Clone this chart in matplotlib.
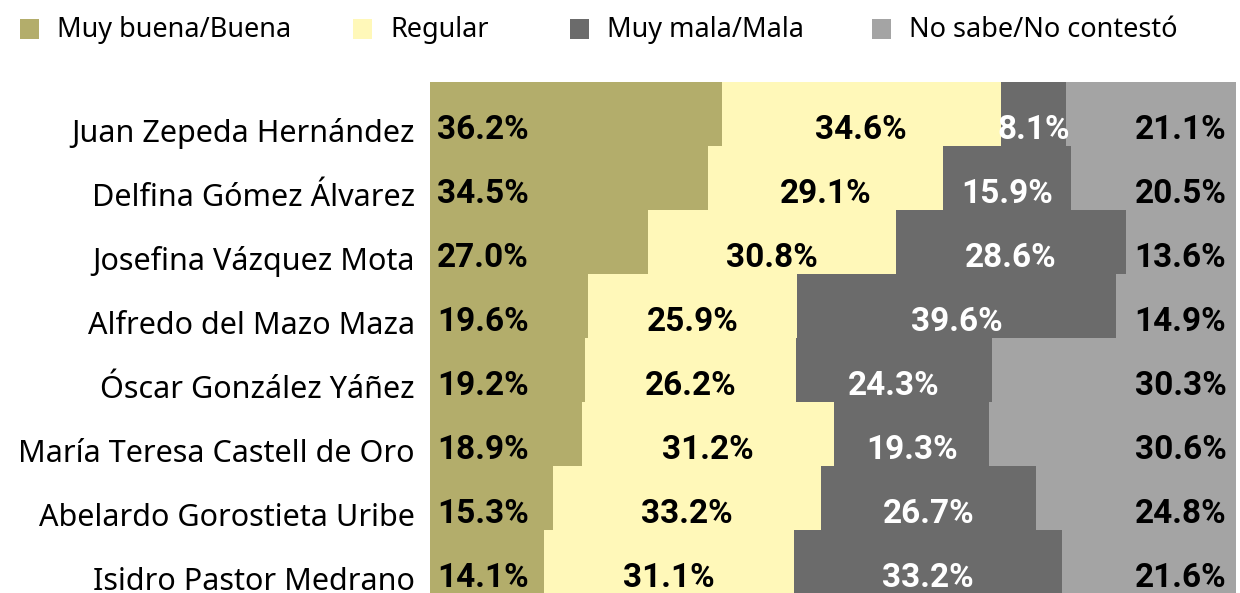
import numpy as np
import matplotlib.pyplot as plt
from matplotlib.patches import Rectangle

# datos de la encuesta
nombres = ["Juan Zepeda Hernández", "Delfina Gómez Álvarez", "Josefina Vázquez Mota",
           "Alfredo del Mazo Maza", "Óscar González Yáñez", "María Teresa Castell de Oro",
           "Abelardo Gorostieta Uribe", "Isidro Pastor Medrano"]
buena = [36.2, 34.5, 27.0, 19.6, 19.2, 18.9, 15.3, 14.1]
regular = [34.6, 29.1, 30.8, 25.9, 26.2, 31.2, 33.2, 31.1]
mala = [8.1, 15.9, 28.6, 39.6, 24.3, 19.3, 26.7, 33.2]
nsnc = [21.1, 20.5, 13.6, 14.9, 30.3, 30.6, 24.8, 21.6]

series = ["Muy buena/Buena", "Regular", "Muy mala/Mala", "No sabe/No contestó"]
colores = ["#b3ad6b", "#fff8b9", "#6b6b6b", "#a4a4a4"]
col_texto = ["black", "black", "white", "black"]

fuente_nom = "Noto Sans"
fuente_num = ["Roboto", "DejaVu Sans"]

fig = plt.figure(figsize=(12.4, 5.93), dpi=100)
ax = fig.add_axes([430 / 1240, -1 / 593, 806 / 1240, 512 / 593])

y = np.arange(len(nombres))
valores = [buena, regular, mala, nsnc]
izq = np.zeros(len(nombres))
for k, vals in enumerate(valores):
    vals = np.array(vals)
    ax.barh(y, vals, left=izq, height=1.0, color=colores[k], linewidth=0)
    for i in range(len(nombres)):
        txt = f"{vals[i]:.1f}%"
        if k == 0:
            ax.text(izq[i] + 0.9, y[i] + 0.25, txt, ha="left", va="center",
                    color=col_texto[k], fontsize=24, fontweight="bold", family=fuente_num)
        elif k == 3:
            ax.text(izq[i] + vals[i] - 1.2, y[i] + 0.25, txt, ha="right", va="center",
                    color=col_texto[k], fontsize=24, fontweight="bold", family=fuente_num)
        else:
            ax.text(izq[i] + vals[i] / 2, y[i] + 0.25, txt, ha="center", va="center",
                    color=col_texto[k], fontsize=24, fontweight="bold", family=fuente_num)
    izq += vals

ax.set_xlim(0, 100)
ax.set_ylim(len(nombres) - 0.5, -0.5)
ax.set_yticks(y + 0.25)
ax.set_yticklabels(nombres, fontsize=22, family=fuente_nom)
ax.tick_params(axis="y", length=0, pad=11)
ax.set_xticks([])
for s in ax.spines.values():
    s.set_visible(False)

# leyenda manual
x_cuadro = [20, 353, 570, 872]
for k in range(4):
    fig.patches.append(Rectangle((x_cuadro[k] / 1240, 1 - 39 / 593), 19 / 1240, 20 / 593,
                                 transform=fig.transFigure, color=colores[k], linewidth=0))
    fig.text((x_cuadro[k] + 37) / 1240, 1 - 30 / 593, series[k], ha="left", va="center",
             fontsize=19.5, family=fuente_nom)

plt.savefig("out.png", dpi=100)
